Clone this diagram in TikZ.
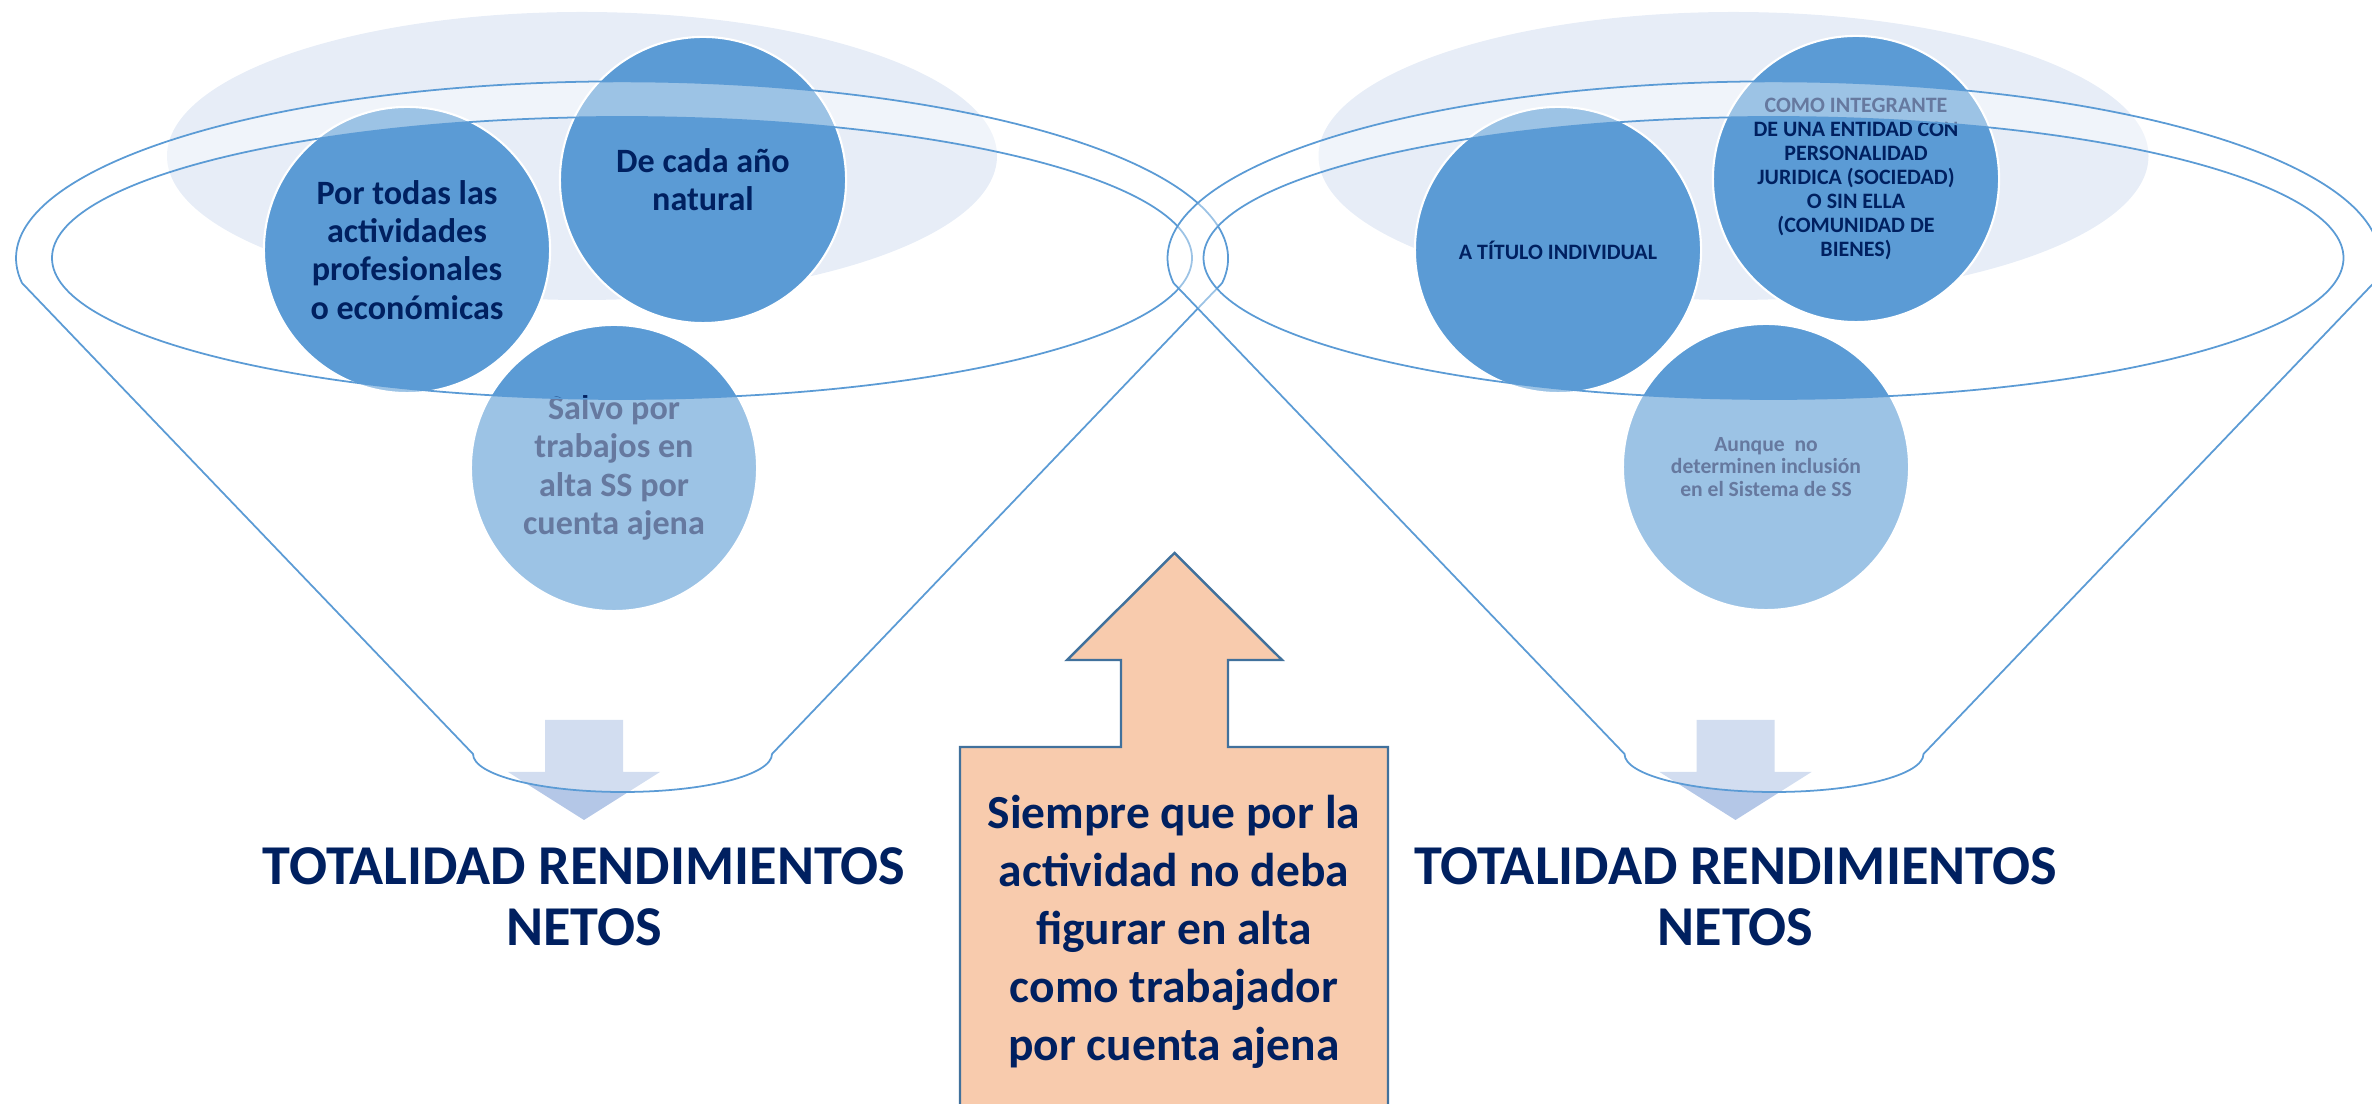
\documentclass[tikz,border=0pt]{standalone}
\usepackage{fontspec}
\setmainfont{Carlito}
\usepackage{xcolor}
\usepackage{tikz}

\definecolor{navy}{HTML}{002060}
\definecolor{ballblue}{HTML}{5B9BD5}
\definecolor{paleblue}{HTML}{E7EDF7}
\definecolor{arrowblue}{HTML}{B4C7E7}
\definecolor{peach}{HTML}{F8CBAD}
\definecolor{steel}{HTML}{41719C}

\begin{document}
\begin{tikzpicture}[x=0.01cm,y=-0.01cm]
\useasboundingbox (0,0) rectangle (2372,1104);
\clip (0,0) rectangle (2372,1104);
\foreach \dx in {0,1151.5}
    \fill[paleblue] (582+\dx,156) ellipse [x radius=415, y radius=144];
\begin{scope}[every node/.style={circle,draw=white,line width=0.6pt,fill=ballblue,
              minimum size=2.86cm,inner sep=0pt,align=center,text=navy,
              font=\fontsize{9.7}{10.9}\selectfont\bfseries}]
    \node (por) at (407,250) {Por todas las\\actividades\\profesionales\\o económicas};
    \node (cada) at (703,180) {De cada año\\natural};
    \node (salvo) at (614,468) {Salvo por\\trabajos en\\alta SS por\\cuenta ajena};
\end{scope}
\begin{scope}[every node/.style={circle,draw=white,line width=0.6pt,fill=ballblue,
              minimum size=2.86cm,inner sep=0pt,align=center,text=navy,
              font=\fontsize{6.25}{6.85}\selectfont\bfseries}]
    \node (titulo) at (1558,250) {A TÍTULO INDIVIDUAL};
    \node (integ) at (1856,179) {COMO INTEGRANTE\\DE UNA ENTIDAD CON\\PERSONALIDAD\\JURIDICA (SOCIEDAD)\\O SIN ELLA\\(COMUNIDAD DE\\BIENES)};
    \node[font=\fontsize{6.15}{6.5}\selectfont\bfseries] (aunque) at (1766,467) {Aunque\ \ no\\determinen inclusión\\en el Sistema de SS};
\end{scope}
% small arrows under the necks
\foreach \dx in {0,1151.5}
    \fill[arrowblue] (545+\dx,720) -- (623+\dx,720) -- (623+\dx,772) -- (660+\dx,772)
        -- (584+\dx,820) -- (508+\dx,772) -- (545+\dx,772) -- cycle;
% funnels
\foreach \dx in {0,1151.5}
    \filldraw[fill=white,fill opacity=0.4,draw=ballblue,line width=0.5pt,even odd rule]
        (22+\dx,283) arc[start angle=172,end angle=368,x radius=606,y radius=177]
        -- (772+\dx,754) arc[start angle=0,end angle=180,x radius=149.5,y radius=38]
        -- cycle
        (622+\dx,258) ellipse [x radius=570,y radius=141];
\begin{scope}[every node/.style={align=center,text=navy,
              font=\fontsize{16}{17.4}\selectfont\bfseries}]
    \node (totL) at (584,897) {TOTALIDAD RENDIMIENTOS\\NETOS};
    \node (totR) at (1735.5,897) {TOTALIDAD RENDIMIENTOS\\NETOS};
\end{scope}
\filldraw[fill=peach,draw=steel,line width=0.7pt] (960,1120) -- (960,747) -- (1121,747)
    -- (1121,660) -- (1067,660) -- (1174.5,553) -- (1282,660) -- (1228,660)
    -- (1228,747) -- (1388,747) -- (1388,1120) -- cycle;
\node[align=center,text=navy,font=\fontsize{13.5}{16.5}\selectfont\bfseries] (cond)
    at (1174,932) {Siempre que por la\\actividad no deba\\figurar en alta\\como trabajador\\por cuenta ajena};
\end{tikzpicture}
\end{document}
